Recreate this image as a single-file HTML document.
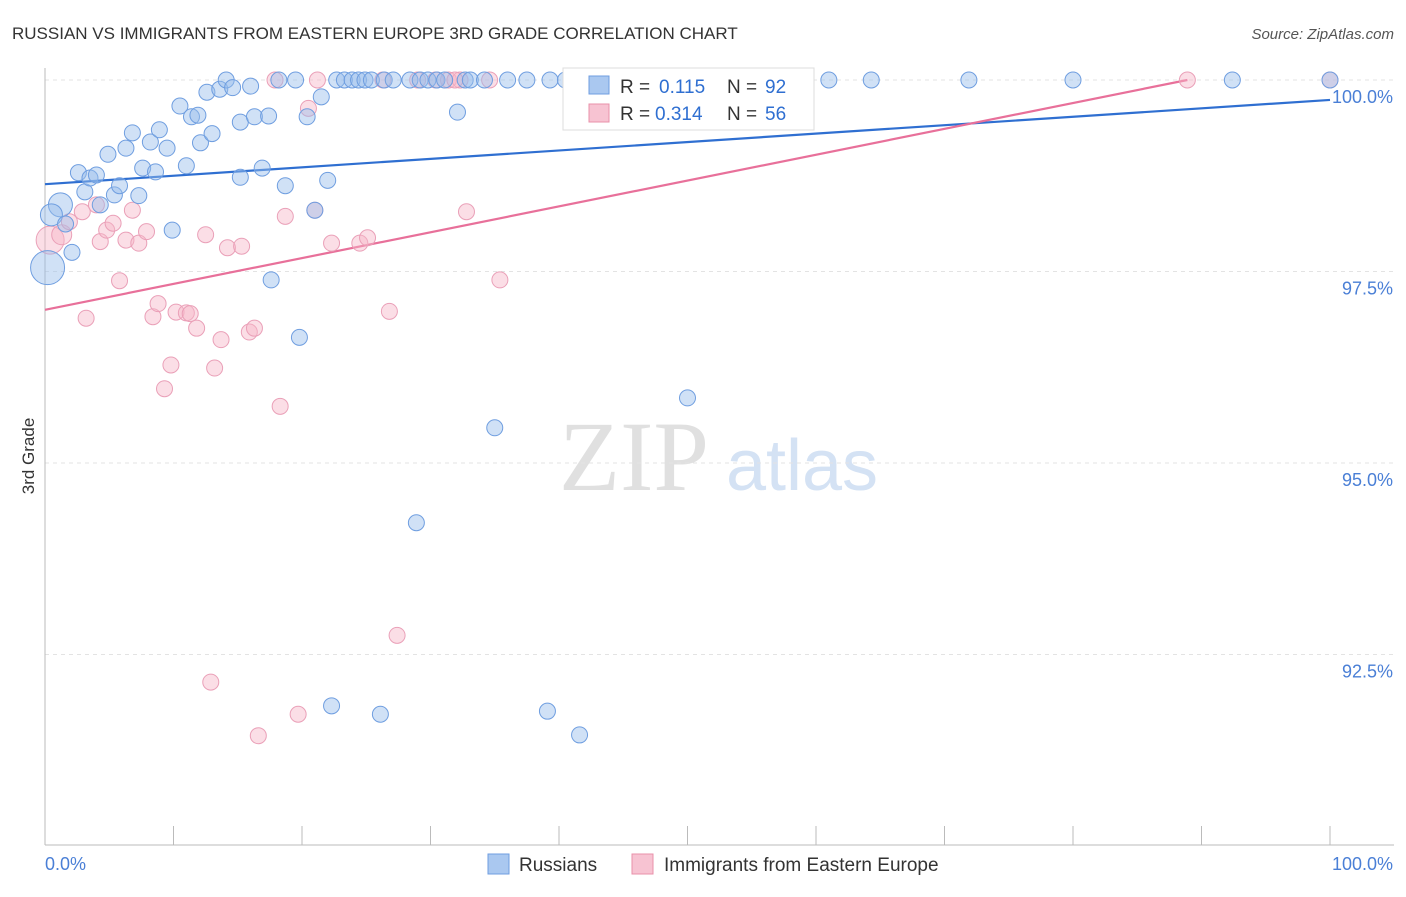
<!DOCTYPE html>
<html><head><meta charset="utf-8"><style>
body{margin:0;background:#fff;font-family:"Liberation Sans",sans-serif;}
svg text{font-family:"Liberation Sans",sans-serif;}
svg text.serif{font-family:"Liberation Serif",serif;}
</style></head><body>
<svg id="chart" width="1406" height="892">
<text x="12" y="39" font-size="17" fill="#333">RUSSIAN VS IMMIGRANTS FROM EASTERN EUROPE 3RD GRADE CORRELATION CHART</text>
<text x="1394" y="39" font-size="15" fill="#555" font-style="italic" text-anchor="end">Source: ZipAtlas.com</text>
<text x="34" y="456" font-size="17" fill="#333" transform="rotate(-90 34 456)" text-anchor="middle">3rd Grade</text>
<g><text class="serif" x="634" y="490" font-size="100" fill="#e0e0e0" text-anchor="middle">ZIP</text><text x="802" y="490" font-size="72" fill="#d4e2f4" text-anchor="middle">atlas</text></g>
<g id="grid"></g><g id="axes"></g><g id="lines"></g><g id="pts"></g>
<g>
<rect x="563" y="68" width="251" height="62" fill="#fff" stroke="#ddd"/>
<rect x="589" y="76" width="20" height="18" fill="#aac8f0" stroke="#6f9ee0"/>
<text x="620" y="93" font-size="19" fill="#333">R =</text><text x="659" y="93" font-size="19" fill="#2f6fd1">0.115</text>
<text x="727" y="93" font-size="19" fill="#333">N =</text><text x="765" y="93" font-size="19" fill="#2f6fd1">92</text>
<rect x="589" y="104" width="20" height="18" fill="#f7c3d2" stroke="#e890aa"/>
<text x="620" y="120" font-size="19" fill="#333">R =</text><text x="655" y="120" font-size="19" fill="#2f6fd1">0.314</text>
<text x="727" y="120" font-size="19" fill="#333">N =</text><text x="765" y="120" font-size="19" fill="#2f6fd1">56</text>
</g>
<g>
<rect x="488" y="854" width="21" height="20" fill="#aac8f0" stroke="#6f9ee0"/>
<text x="519" y="871" font-size="19" fill="#333">Russians</text>
<rect x="632" y="854" width="21" height="20" fill="#f7c3d2" stroke="#e890aa"/>
<text x="664" y="871" font-size="19" fill="#333">Immigrants from Eastern Europe</text>
</g>
</svg>
<script>
const blueX=[1.2,0.5,0.2,2.1,1.6,2.6,3.1,3.5,4.0,4.3,4.9,5.4,5.8,6.3,6.8,7.3,7.6,8.2,8.6,8.9,9.5,9.9,10.5,11.0,11.4,11.9,12.1,12.6,13.0,13.6,14.1,14.6,15.2,15.2,16.0,16.3,16.9,17.4,17.6,18.2,18.7,19.5,19.8,20.4,21.0,21.5,22.0,22.7,23.3,23.9,24.4,24.9,25.4,26.4,27.1,28.4,29.2,29.8,30.5,31.1,32.1,32.7,33.1,34.2,36.0,37.5,39.3,40.5,47.1,50.0,50.2,52.4,59.2,61.0,64.3,71.9,80.0,92.4,100,35.0,28.9,22.3,26.1,39.1,41.6];
const blueY=[98.37,98.24,97.55,97.75,98.12,98.79,98.54,98.72,98.76,98.37,99.03,98.50,98.62,99.11,99.31,98.49,98.85,99.19,98.80,99.35,99.11,98.04,99.66,98.88,99.52,99.54,99.18,99.84,99.30,99.88,100,99.90,99.45,98.73,99.92,99.52,98.85,99.53,97.39,100,98.62,100,96.64,99.52,98.30,99.78,98.69,100,100,100,100,100,100,100,100,100,100,100,100,100,99.58,100,100,100,100,100,100,100,100,95.85,100,100,100,100,100,100,100,100,100,95.46,94.22,91.83,91.72,91.76,91.45];
const blueR=[12,11,17];
const pinkX=[0.4,1.3,1.9,2.9,3.2,4.0,4.3,4.8,5.3,5.8,6.3,6.8,7.3,7.9,8.4,8.8,9.3,9.8,10.2,11.0,11.3,11.8,12.5,13.2,13.7,14.2,15.3,15.9,16.3,18.3,18.7,17.9,20.5,21.0,21.2,19.7,22.3,24.5,25.1,26.3,26.8,27.4,12.9,16.6,29.0,30.4,31.4,32.3,32.8,34.6,35.4,88.9,100,31.9];
const pinkY=[97.91,97.98,98.15,98.28,96.89,98.37,97.89,98.04,98.13,97.38,97.91,98.30,97.87,98.02,96.91,97.08,95.97,96.28,96.97,96.96,96.95,96.76,97.98,96.24,96.61,97.81,97.83,96.71,96.76,95.74,98.22,100,99.63,98.30,100,91.72,97.87,97.87,97.94,100,96.98,92.75,92.14,91.44,100,100,100,100,98.28,100,97.39,100,100,100];
const pinkR=[14,10];
const blueTrend=[98.64,99.74];
const pinkTrend=[97.0,100.0,88.9];
const yTicks=[100,97.5,95,92.5];
const yTickLabels=["100.0%","97.5%","95.0%","92.5%"];
const NS="http://www.w3.org/2000/svg";
const X=v=>45+v*12.85, Y=v=>80+(100-v)*76.6;
function mk(p,t,a){const e=document.createElementNS(NS,t);for(const k in a)e.setAttribute(k,a[k]);p.appendChild(e);return e;}
const grid=document.getElementById('grid'),axes=document.getElementById('axes'),lines=document.getElementById('lines'),pts=document.getElementById('pts');
yTicks.forEach((t,i)=>{
 const g=mk(grid,'line',{x1:45,x2:1394,y1:Y(t),y2:Y(t),stroke:'#e3e3e3','stroke-dasharray':'4,4'});
 
 
 const l=mk(axes,'text',{x:1393,y:Y(t)+23,'font-size':18,fill:'#4a7fd6','text-anchor':'end'});l.textContent=yTickLabels[i];
 
 
});
mk(axes,'line',{x1:45,x2:45,y1:68,y2:845,stroke:'#bbb'});
mk(axes,'line',{x1:45,x2:1394,y1:845,y2:845,stroke:'#bbb'});
for(let i=0;i<=10;i++){const t=mk(axes,'line',{x1:X(i*10),x2:X(i*10),y1:826,y2:845,stroke:'#bbb'});
 
 }
const xl0=mk(axes,'text',{x:45,y:870,'font-size':18,fill:'#4a7fd6'});xl0.textContent='0.0%';


const xl1=mk(axes,'text',{x:1393,y:870,'font-size':18,fill:'#4a7fd6','text-anchor':'end'});xl1.textContent='100.0%';


pinkX.forEach((x,i)=>{const c=mk(pts,'circle',{cx:X(x),cy:Y(pinkY[i]),r:pinkR[i]||8,fill:'rgba(247,182,200,0.45)',stroke:'#eaa0b8','stroke-width':1});
 
 });
blueX.forEach((x,i)=>{const c=mk(pts,'circle',{cx:X(x),cy:Y(blueY[i]),r:blueR[i]||8,fill:'rgba(150,188,236,0.45)',stroke:'#6f9ee0','stroke-width':1});
 
 });
const bl=mk(lines,'line',{x1:X(0),y1:Y(blueTrend[0]),x2:X(100),y2:Y(blueTrend[1]),stroke:'#2f6fd1','stroke-width':2.2});


const pl=mk(lines,'line',{x1:X(0),y1:Y(pinkTrend[0]),x2:X(pinkTrend[2]),y2:Y(pinkTrend[1]),stroke:'#e8709a','stroke-width':2.2});


</script>
</body></html>
